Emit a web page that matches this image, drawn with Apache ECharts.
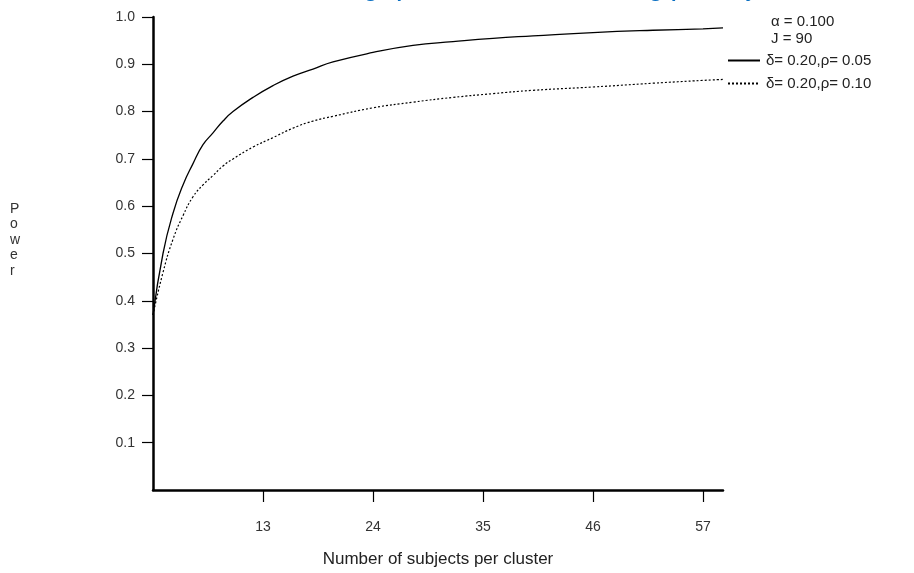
<!DOCTYPE html>
<html>
<head>
<meta charset="utf-8">
<script src="https://cdn.jsdelivr.net/npm/echarts@6/dist/echarts.min.js"></script>
<style>
  html, body { margin: 0; padding: 0; background: #fff; }
  #main { width: 914px; height: 573px; }
</style>
</head>
<body>
<div id="main"></div>
<script>
// cluster size (subjects per cluster)
var nVals = [2, 3, 4, 5, 6, 7, 8, 9, 10, 12, 14, 16, 18, 20, 24, 28, 32, 36, 40, 46, 52, 57, 59];
// power, delta = 0.20, rho = 0.05
var powerRho05 = [0.37, 0.50, 0.585, 0.645, 0.69, 0.73, 0.755, 0.78, 0.80, 0.83, 0.855, 0.875, 0.89, 0.905, 0.925, 0.94, 0.948, 0.955, 0.96, 0.967, 0.972, 0.975, 0.977];
// power, delta = 0.20, rho = 0.10
var powerRho10 = [0.37, 0.46, 0.53, 0.58, 0.62, 0.645, 0.665, 0.685, 0.70, 0.725, 0.745, 0.765, 0.78, 0.79, 0.808, 0.82, 0.83, 0.838, 0.845, 0.852, 0.86, 0.866, 0.868];

var xTicks = [13, 24, 35, 46, 57];
var yTicks = [0.1, 0.2, 0.3, 0.4, 0.5, 0.6, 0.7, 0.8, 0.9, 1.0];

var seriesNames = ['δ= 0.20,ρ= 0.05', 'δ= 0.20,ρ= 0.10'];

function pairs(xs, ys) {
    var out = [];
    for (var i = 0; i < xs.length; i++) {
        out.push([xs[i], ys[i]]);
    }
    return out;
}

var myChart = echarts.init(document.getElementById('main'));

var font = 'Liberation Sans, Arial, sans-serif';

var option = {
    backgroundColor: '#fff',
    animation: false,
    title: {
        // only the bottom of this heading shows in the picture
        text: 'Estimating a power curve for cluster sizing, per study',
        left: 275,
        top: -22,
        textStyle: {
            color: '#0a6fc2',
            fontSize: 18,
            lineHeight: 18,
            fontWeight: 'bold',
            fontFamily: 'Open Sans, sans-serif'
        }
    },
    grid: {
        left: 153,
        top: 17,
        width: 570,
        height: 478
    },
    legend: {
        orient: 'vertical',
        left: 722,
        top: 48,
        itemWidth: 32,
        itemHeight: 8,
        itemGap: 8,
        itemStyle: { opacity: 0 },
        textStyle: {
            color: '#222',
            fontSize: 15,
            fontFamily: font,
            padding: [0, 0, 0, 1]
        },
        data: seriesNames
    },
    xAxis: {
        type: 'value',
        min: 2,
        max: 59,
        interval: 11,
        name: 'Number of subjects per cluster',
        nameLocation: 'middle',
        nameGap: 61,
        nameTextStyle: {
            color: '#222',
            fontSize: 17,
            fontFamily: font
        },
        axisLine: { show: true, lineStyle: { color: '#000', width: 2.5 } },
        axisTick: {
            show: true,
            length: 12,
            customValues: xTicks,
            lineStyle: { color: '#000', width: 1.2 }
        },
        axisLabel: {
            customValues: xTicks,
            margin: 30,
            color: '#333',
            fontSize: 14,
            fontFamily: font
        },
        splitLine: { show: false }
    },
    yAxis: {
        type: 'value',
        min: 0,
        max: 1,
        interval: 0.1,
        axisLine: { show: true, lineStyle: { color: '#000', width: 2.5 } },
        axisTick: {
            show: true,
            length: 11,
            customValues: yTicks,
            lineStyle: { color: '#000', width: 1.2 }
        },
        axisLabel: {
            customValues: yTicks,
            margin: 18,
            color: '#333',
            fontSize: 14,
            fontFamily: font,
            formatter: function (v) {
                return v.toFixed(1);
            }
        },
        splitLine: { show: false }
    },
    graphic: [
        {
            type: 'text',
            left: 10,
            top: 201,
            style: {
                text: 'P\no\nw\ne\nr',
                fill: '#333',
                font: '14px ' + font,
                lineHeight: 15.5,
                align: 'center'
            }
        },
        {
            type: 'text',
            left: 771,
            top: 13,
            style: {
                text: 'α = 0.100\nJ = 90',
                fill: '#222',
                font: '15px ' + font,
                lineHeight: 17
            }
        }
    ],
    series: [
        {
            name: seriesNames[0],
            type: 'line',
            smooth: true,
            symbol: 'none',
            lineStyle: { color: '#000', width: 1.3, type: 'solid' },
            itemStyle: { color: '#000' },
            data: pairs(nVals, powerRho05)
        },
        {
            name: seriesNames[1],
            type: 'line',
            smooth: true,
            symbol: 'none',
            lineStyle: { color: '#000', width: 1.2, type: [2, 2] },
            itemStyle: { color: '#000' },
            data: pairs(nVals, powerRho10)
        }
    ]
};

myChart.setOption(option);
</script>
</body>
</html>
